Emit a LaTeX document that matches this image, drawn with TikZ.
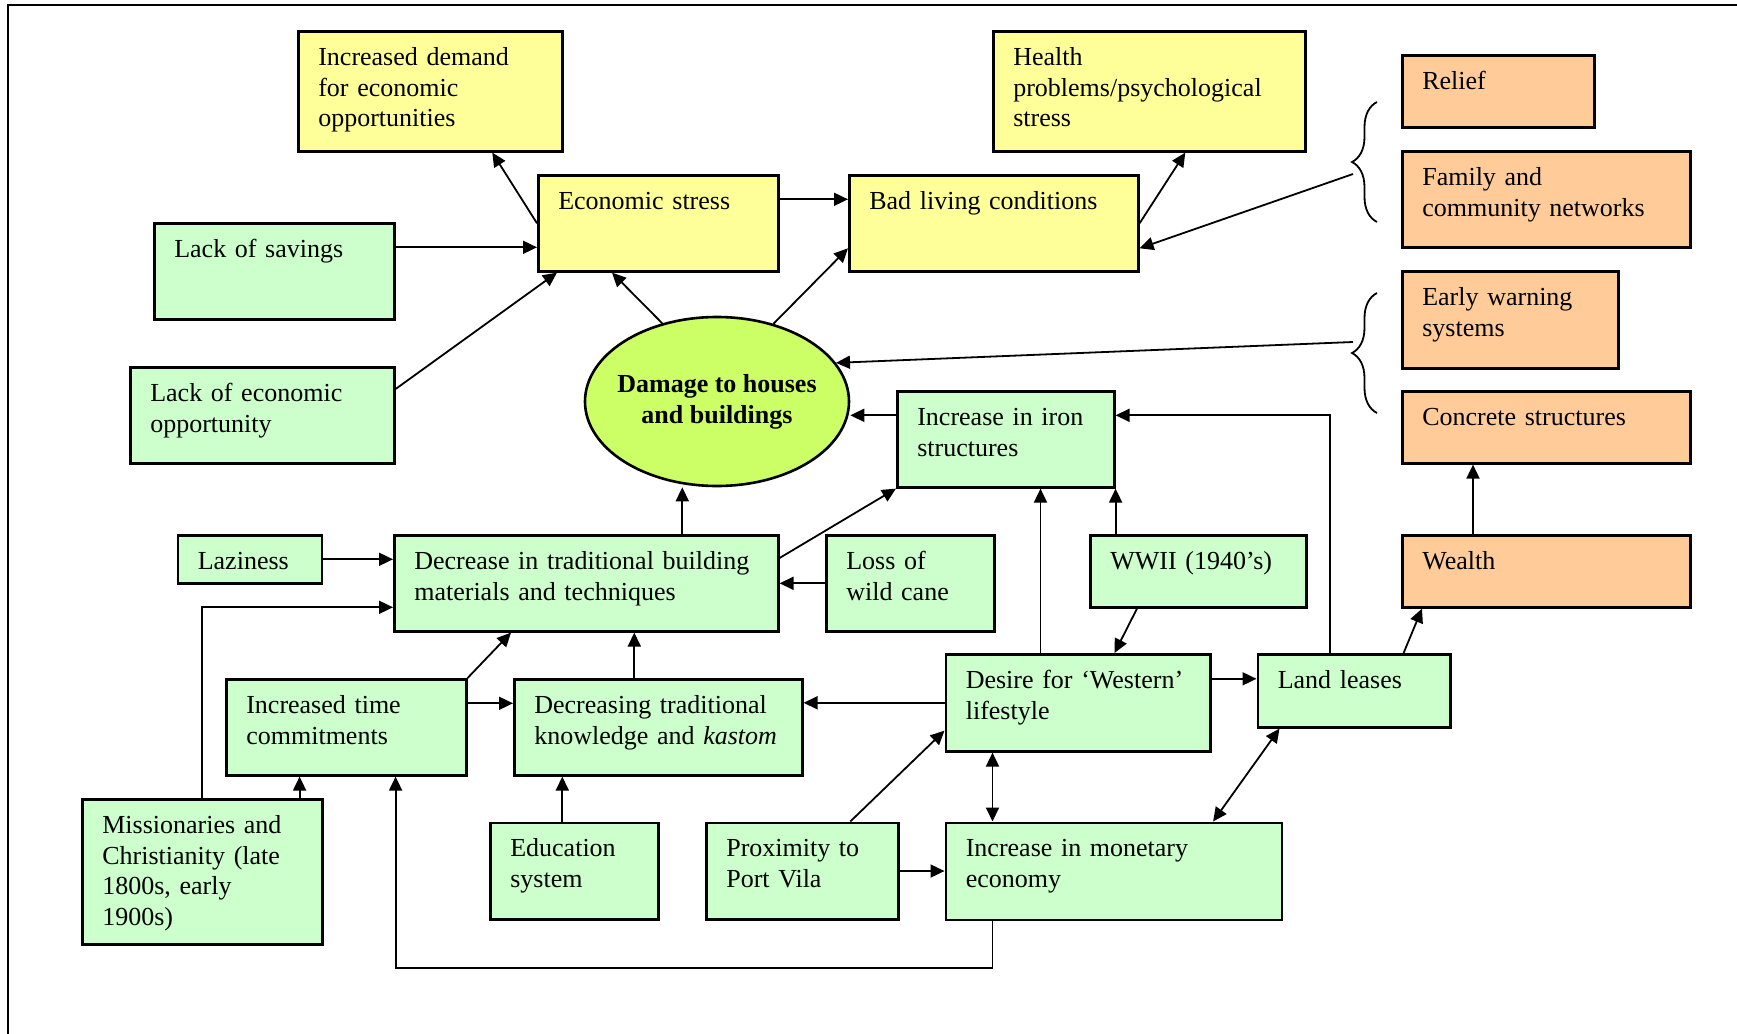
\documentclass[tikz,border=0pt]{standalone}
\usepackage{fontspec}
\setmainfont{Liberation Serif}
\usepackage{tikz}
\usetikzlibrary{positioning,calc,arrows.meta,shapes.geometric,decorations.pathreplacing}

\begin{document}
\begin{tikzpicture}[x=0.5pt, y=-0.5pt, >={Triangle[length=7pt,width=6.5pt]}, line width=0.9pt]
	\definecolor{ycolor}{RGB}{255,255,153}
	\definecolor{gcolor}{RGB}{204,255,204}
	\definecolor{ocolor}{RGB}{255,204,153}
	\definecolor{dcolor}{RGB}{204,255,102}
	\tikzstyle{box}=[rectangle, draw=black, line width=1.3pt, anchor=north west, align=left, inner xsep=10pt, inner ysep=7pt, text height=10pt, font=\fontsize{13}{15.4}\selectfont]
	\tikzstyle{ybox}=[box, fill=ycolor]
	\tikzstyle{gbox}=[box, fill=gcolor]
	\tikzstyle{obox}=[box, fill=ocolor]
	\tikzstyle{link}=[->]
	\tikzstyle{twoway}=[<->]
	\tikzstyle{curly}=[decorate, decoration={brace, amplitude=12.5pt}]

	\clip (0,0) rectangle (1737,1034);
	\draw[line width=1pt] (8,1040) |- (1745,5);

	% Draw the central node
	\node[ellipse, draw, line width=1.3pt, fill=dcolor, minimum width=132pt, minimum height=84.5pt, inner xsep=-8pt, inner ysep=0pt, align=center, font=\fontsize{13}{15.4}\selectfont\bfseries] (dmg) at (717,401.5) {Damage to houses\\and buildings};

	% Draw the consequences
	\node[ybox, text width=112pt, text depth=36pt] (dem) at (297,30) {Increased demand\\for economic\\opportunities};
	\node[ybox, text width=100pt, text depth=24pt] (ecs) at (537,174) {Economic stress};
	\node[ybox, text width=124.5pt, text depth=24pt] (bad) at (848,174) {Bad living conditions};
	\node[ybox, text width=136pt, text depth=36pt] (hea) at (992,30) {Health\\problems/psychological\\stress};

	% Draw the coping strategies
	\node[obox, text width=76pt, text depth=12pt] (rel) at (1401,54) {Relief};
	\node[obox, text width=124pt, text depth=24pt] (fam) at (1401,150) {Family and\\community networks};
	\node[obox, text width=88pt, text depth=24.5pt] (ews) at (1401,270) {Early warning\\systems};
	\node[obox, text width=124pt, text depth=12pt] (con) at (1401,390) {Concrete structures};
	\node[obox, text width=124pt, text depth=12pt] (wea) at (1401,534) {Wealth};

	% Draw the causes
	\node[gbox, text width=100pt, text depth=24pt] (sav) at (153,222) {Lack of savings};
	\node[gbox, text width=112pt, text depth=24pt] (leo) at (129,366) {Lack of economic\\opportunity};
	\node[gbox, text width=88.5pt, text depth=24pt] (iro) at (896,390) {Increase in iron\\structures};
	\node[gbox, text width=52pt, text depth=0pt] (laz) at (176.5,534) {Laziness};
	\node[gbox, text width=172pt, text depth=24pt] (dtb) at (393,534) {Decrease in traditional building\\materials and techniques};
	\node[gbox, text width=64pt, text depth=24pt] (los) at (825,534) {Loss of\\wild cane};
	\node[gbox, text width=88pt, text depth=12pt] (wwi) at (1089,534) {WWII (1940’s)};
	\node[gbox, text width=100pt, text depth=24pt] (itc) at (225,678) {Increased time\\commitments};
	\node[gbox, text width=124pt, text depth=24pt] (dtk) at (513,678) {Decreasing traditional\\knowledge and \emph{kastom}};
	\node[gbox, text width=112.25pt, text depth=24.5pt] (des) at (944.5,653) {Desire for ‘Western’\\lifestyle};
	\node[gbox, text width=76.25pt, text depth=12.5pt] (lan) at (1256.5,653) {Land leases};
	\node[gbox, text width=100pt, text depth=48.5pt] (mis) at (81,798) {Missionaries and\\Christianity (late\\1800s, early\\1900s)};
	\node[gbox, text width=64pt, text depth=24.25pt] (edu) at (489,821.5) {Education\\system};
	\node[gbox, text width=76pt, text depth=24.25pt] (pro) at (705,821.5) {Proximity to\\Port Vila};
	\node[gbox, text width=148pt, text depth=24.5pt] (mon) at (944.5,821.5) {Increase in monetary\\economy};

	% Draw the braces
	\draw[curly] (1377,222) -- (1377,102);
	\draw[curly] (1377,413) -- (1377,293);
	\coordinate (b1) at (1353,174);
	\coordinate (b2) at (1353,342);

	% Connect the top part
	\draw[link] (ecs.west) -- ([xshift=31pt]dem.south);
	\draw[link] ([yshift=12pt]sav.east) -- ([yshift=12pt]sav.east -| ecs.west);
	\draw[link] ([yshift=-11.5pt]leo.north east) -- ([xshift=10pt]ecs.south west);
	\draw[link] (dmg.125) -- ([xshift=37.5pt]ecs.south west);
	\draw[link] (dmg.54) -- ([yshift=-12.5pt]bad.west);
	\draw[link] ([yshift=12pt]ecs.east) -- ([yshift=12pt]ecs.east -| bad.west);
	\draw[link] (bad.east) -- ([xshift=18pt]hea.south);
	\draw[link] (b1) -- ([yshift=-12.5pt]bad.east);
	\draw[link] (b2) -- (dmg.18);
	% Connect the bottom part
	\draw[link] ([yshift=12pt]iro.west) -- ([yshift=12pt]iro.west -| dmg.east);
	\draw[link] ([xshift=-12pt]lan.north) |- ([yshift=12pt]iro.east);
	\draw[link] ([xshift=48pt]dtb.north) -- ([xshift=48pt]dtb.north |- dmg.south);
	\draw[link] ([yshift=-12pt]dtb.north east) -- (iro.south west);
	\draw[link] (laz.east) -- (laz.east -| dtb.west);
	\draw[link] (los.west) -- (los.west -| dtb.east);
	\draw[link] (mis.north) |- ([yshift=-12pt]dtb.west);
	\draw[link] ([xshift=-12pt]mis.north east) -- ([xshift=-12pt]mis.north east |- itc.south);
	\draw[link] (itc.north east) -- ([xshift=59pt]dtb.south west);
	\draw[link] ([yshift=12pt]itc.east) -- ([yshift=12pt]itc.east -| dtk.west);
	\draw[link] ([xshift=-12pt]dtk.north) -- ([xshift=-12pt]dtk.north |- dtb.south);
	\draw[link] ([xshift=-6pt]edu.north) -- ([xshift=-6pt]edu.north |- dtk.south);
	\draw[link] (des.west) -- (des.west -| dtk.east);
	\draw[link] ([xshift=24pt]pro.north) -- ([yshift=11pt]des.south west);
	\draw[link] (pro.east) -- (pro.east -| mon.west);
	\draw[twoway] ([xshift=24pt]des.south west) -- ([xshift=24pt]des.south west |- mon.north);
	\draw[twoway] ([xshift=11.5pt]lan.south west) -- ([xshift=-35pt]mon.north east);
	\draw[link] ([xshift=48pt]des.north west) -- ([xshift=48pt]des.north west |- iro.south);
	\draw[link] (iro.south east |- wwi.north) -- (iro.south east);
	\draw[link] ([xshift=24pt]wwi.south west) -- ([xshift=85pt]des.north west);
	\draw[link] ([yshift=12pt]des.east) -- ([yshift=12pt]des.east -| lan.west);
	\draw[link] ([xshift=-24pt]lan.north east) -- ([xshift=10.5pt]wea.south west);
	\draw[link] ([xshift=36pt]wea.north west) -- ([xshift=36pt]wea.north west |- con.south);
	\draw[link] ([xshift=24pt]mon.south west) -- ++(0,47) -| ([xshift=-36pt]itc.south east);
\end{tikzpicture}
\end{document}
